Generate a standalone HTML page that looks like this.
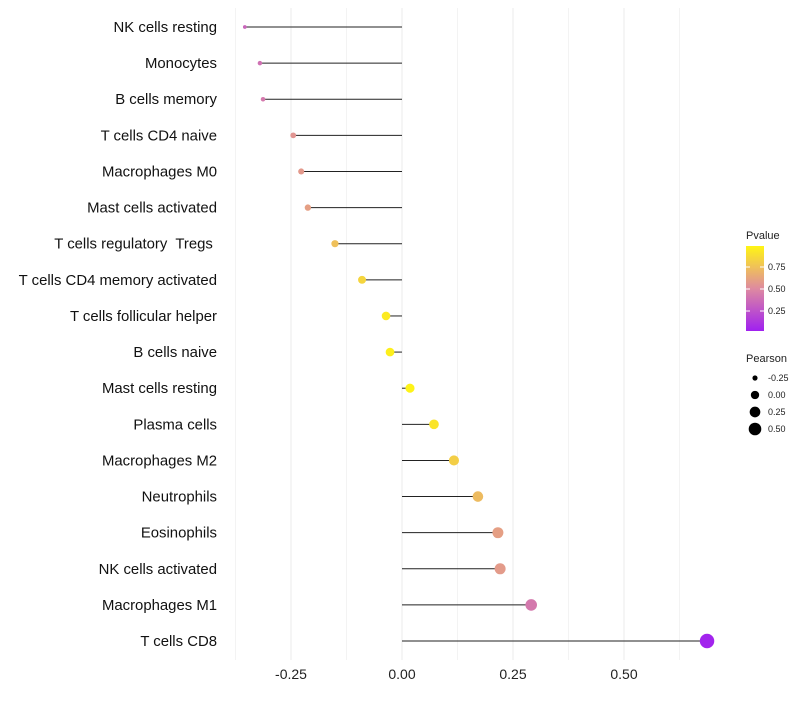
<!DOCTYPE html>
<html><head><meta charset="utf-8"><style>
body{margin:0;background:#fff;font-family:"Liberation Sans",sans-serif}
text{white-space:pre}
</style></head><body>
<svg id="chart" width="800" height="700" xmlns="http://www.w3.org/2000/svg" font-family="Liberation Sans, sans-serif"></svg>
<script>
const categories=["NK cells resting","Monocytes","B cells memory","T cells CD4 naive","Macrophages M0","Mast cells activated","T cells regulatory  Tregs ","T cells CD4 memory activated","T cells follicular helper","B cells naive","Mast cells resting","Plasma cells","Macrophages M2","Neutrophils","Eosinophils","NK cells activated","Macrophages M1","T cells CD8"];
const pearson=[-0.354,-0.320,-0.313,-0.245,-0.227,-0.212,-0.151,-0.090,-0.036,-0.027,0.018,0.072,0.117,0.171,0.216,0.221,0.291,0.687];
const pvalue=[0.33,0.38,0.42,0.55,0.57,0.6,0.75,0.85,0.95,0.97,0.99,0.92,0.82,0.73,0.6,0.58,0.42,0.02];
const xTicks=[-0.25,0,0.25,0.5];
const xTickLabels=["-0.25","0.00","0.25","0.50"];
const legendP=[0.25,0.5,0.75];
const legendPearson=[-0.25,0,0.25,0.5];
const NS="http://www.w3.org/2000/svg",svg=document.getElementById('chart');
function mk(t,a,p){const e=document.createElementNS(NS,t);for(const k in a)e.setAttribute(k,a[k]);(p||svg).appendChild(e);return e;}
const X=v=>402+v*444;
const Y=i=>27+i*36.12;
const R=v=>Math.sqrt(Math.max(3.5,20+47*v));
function lerp(a,b,t){return a.map((x,i)=>Math.round(x+(b[i]-x)*t));}
function col(p){const c0=[160,32,240],c1=[222,138,160],c2=[255,245,20];
const c=p<0.5?lerp(c0,c1,p/0.5):lerp(c1,c2,(p-0.5)/0.5);return `rgb(${c})`;}
let k=0;
for(let v=-0.375;v<=0.63;v+=0.125){const g=mk('line',{x1:X(v),x2:X(v),y1:8,y2:660,stroke:(k++%2)?'#ebebeb':'#f3f3f3','stroke-width':1});
}
xTicks.forEach((v,i)=>{const t=mk('text',{x:X(v),y:679,'text-anchor':'middle','font-size':14,fill:'#222'});t.textContent=xTickLabels[i];
});
categories.forEach((c,i)=>{
const t=mk('text',{x:217,y:Y(i)+5,'text-anchor':'end','font-size':14.9,fill:'#111'});t.textContent=c;

const l=mk('line',{x1:X(0),x2:X(pearson[i]),y1:Y(i),y2:Y(i),stroke:'#222','stroke-width':1});

const d=mk('circle',{cx:X(pearson[i]),cy:Y(i),r:R(pearson[i]),fill:col(pvalue[i])});

});
const defs=mk('defs',{});const lg=mk('linearGradient',{id:'pg',x1:0,y1:1,x2:0,y2:0},defs);
[0,0.25,0.5,0.75,1].forEach(p=>mk('stop',{offset:p,'stop-color':col(p)},lg));
const lt=mk('text',{x:746,y:239,'font-size':11,fill:'#222'});lt.textContent='Pvalue';

const bar=mk('rect',{x:746,y:246,width:18,height:85,fill:'url(#pg)'});

legendP.forEach(p=>{const y=333-p*88;mk('line',{x1:746,x2:750,y1:y,y2:y,stroke:'#fff'});mk('line',{x1:760,x2:764,y1:y,y2:y,stroke:'#fff'});
const t=mk('text',{x:768,y:y+3,'font-size':9,fill:'#222'});t.textContent=p.toFixed(2);
});
const st=mk('text',{x:746,y:362,'font-size':11,fill:'#222'});st.textContent='Pearson';

legendPearson.forEach((v,i)=>{const y=378+i*17;const c=mk('circle',{cx:755,cy:y,r:R(v)-0.3,fill:'#000'});

const t=mk('text',{x:768,y:y+3,'font-size':9,fill:'#222'});t.textContent=v.toFixed(2);
});
</script>
</body></html>
